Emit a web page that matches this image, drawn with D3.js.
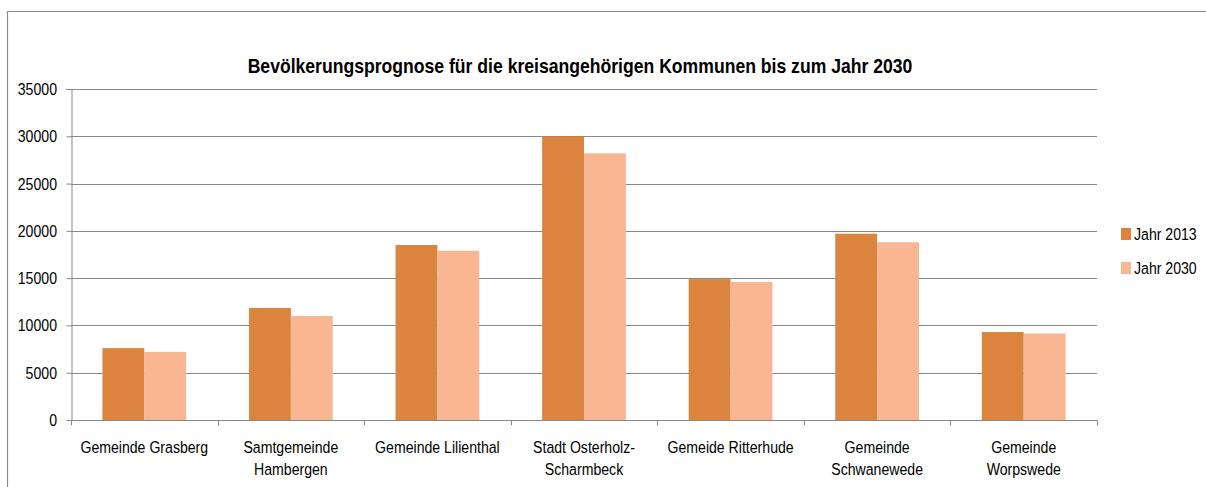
<!DOCTYPE html>
<html>
<head>
<meta charset="utf-8">
<script src="https://cdn.jsdelivr.net/npm/d3@7"></script>
<style>
  body { margin: 0; background: #fff; }
  svg { display: block; }
  text { font-family: "Liberation Sans", Arial, sans-serif; fill: #000; }
</style>
</head>
<body>
<div id="chart"></div>
<script>
// Kommunen (x-axis labels, split on lines)
const communes = [
    ['Gemeinde Grasberg'],
    ['Samtgemeinde', 'Hambergen'],
    ['Gemeinde Lilienthal'],
    ['Stadt Osterholz-', 'Scharmbeck'],
    ['Gemeide Ritterhude'],
    ['Gemeinde', 'Schwanewede'],
    ['Gemeinde', 'Worpswede']
];
const series = ['Jahr 2013', 'Jahr 2030'];
const values2013 = [7600, 11850, 18500, 30000, 14900, 19700, 9300];
const values2030 = [7200, 11000, 17900, 28200, 14600, 18800, 9150];
const yTicks = [0, 5000, 10000, 15000, 20000, 25000, 30000, 35000];
const chartTitle = 'Bevölkerungsprognose für die kreisangehörigen Kommunen bis zum Jahr 2030';

const colors = ['#DB843E', '#F9B692'];
const width = 1206, height = 487;
const margin = { left: 71, right: 109, top: 89, bottom: 67 };
const squeeze = 0.83; // narrow look of the original fonts

const svg = d3.select('#chart').append('svg')
    .attr('width', width)
    .attr('height', height);

// outer frame (only top and left edges visible)
svg.append('path')
    .attr('d', `M7.5,${height} V11.5 H${width}`)
    .attr('fill', 'none')
    .attr('stroke', '#8a8a8a')
    .attr('stroke-width', 1.2);

const x = d3.scaleBand()
    .domain(d3.range(communes.length))
    .range([margin.left, width - margin.right])
    .padding(0);

const y = d3.scaleLinear()
    .domain([0, 35000])
    .range([height - margin.bottom, margin.top]);

// gridlines
svg.append('g')
    .selectAll('line')
    .data(yTicks.slice(1))
    .enter().append('line')
    .attr('x1', margin.left)
    .attr('x2', width - margin.right)
    .attr('y1', d => Math.round(y(d)) + 0.5)
    .attr('y2', d => Math.round(y(d)) + 0.5)
    .attr('stroke', '#888')
    .attr('stroke-width', 1);

// bars
const bw = x.bandwidth() / 3.5;
const data = [values2013, values2030];
data.forEach((vals, s) => {
    svg.append('g')
        .selectAll('rect')
        .data(vals)
        .enter().append('rect')
        .attr('x', (d, i) => x(i) + x.bandwidth() / 2 - bw + s * bw)
        .attr('y', d => y(d))
        .attr('width', bw)
        .attr('height', d => y(0) - y(d))
        .attr('fill', colors[s]);
});

// y axis
const yAxis = svg.append('g')
    .attr('transform', `translate(${margin.left + 0.5},0)`)
    .call(d3.axisLeft(y).tickValues(yTicks).tickSize(5).tickPadding(12.5).tickFormat(d3.format('d')));
yAxis.selectAll('path, line').attr('stroke', '#888');
yAxis.selectAll('text')
    .style('font-family', '"Liberation Sans", Arial, sans-serif')
    .style('font-size', '17px')
    .attr('fill', '#000')
    .attr('transform', `scale(${squeeze},1)`);

// x axis with ticks at category boundaries
const xAxisG = svg.append('g')
    .attr('transform', `translate(0,${Math.round(y(0)) + 0.5})`);
xAxisG.append('line')
    .attr('x1', margin.left)
    .attr('x2', width - margin.right)
    .attr('stroke', '#888');
xAxisG.selectAll('.tick')
    .data(d3.range(communes.length + 1))
    .enter().append('line')
    .attr('x1', i => Math.round(margin.left + i * x.step()) + 0.5)
    .attr('x2', i => Math.round(margin.left + i * x.step()) + 0.5)
    .attr('y1', 0)
    .attr('y2', 5)
    .attr('stroke', '#888');

const labels = svg.append('g')
    .selectAll('g')
    .data(communes)
    .enter().append('g')
    .attr('transform', (d, i) => `translate(${x(i) + x.bandwidth() / 2},453) scale(${squeeze},1)`);
labels.selectAll('text')
    .data(d => d)
    .enter().append('text')
    .attr('text-anchor', 'middle')
    .attr('font-size', 17)
    .attr('y', (d, i) => i * 22)
    .text(d => d);

// title
svg.append('g')
    .attr('transform', 'translate(580,73) scale(0.88,1)')
    .append('text')
    .attr('text-anchor', 'middle')
    .attr('font-size', 20)
    .attr('font-weight', 'bold')
    .text(chartTitle);

// legend
const legend = svg.append('g')
    .selectAll('g')
    .data(series)
    .enter().append('g')
    .attr('transform', (d, i) => `translate(1121,${228 + i * 34})`);
legend.append('rect')
    .attr('width', 10)
    .attr('height', 12)
    .attr('fill', (d, i) => colors[i]);
legend.append('text')
    .attr('transform', `translate(13,12) scale(${squeeze},1)`)
    .attr('font-size', 17)
    .text(d => d);
</script>
</body>
</html>
